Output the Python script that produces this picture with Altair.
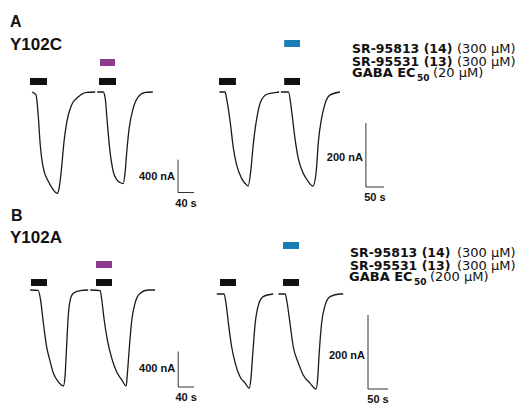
import altair as alt
import pandas as pd

FONT = "Liberation Sans"
LFONT = "DejaVu Sans"

# ---------------- data (time in s, current in nA) ----------------
# Panel A, left (Y102C, GABA then GABA + SR-95531)
aL_t1 = [5, 15, 21, 25, 33, 46, 58, 68, 73, 79, 85, 92, 104, 121, 142, 163]
aL_i1 = [0, -36, -315, -606, -921, -1091, -1188, -1236, -1164, -921, -606, -364, -158, -57, -4, 0]
aL_t2 = [168, 183, 188, 193, 200, 208, 217, 225, 233, 238, 242, 248, 258, 271, 288, 307]
aL_i2 = [0, 0, -76, -360, -724, -966, -1067, -1103, -1115, -966, -724, -440, -198, -57, -4, 0]
aL_gaba = [[0, 42.5], [172.5, 215]]
aL_drug = [[175, 212.5]]

# Panel A, right (Y102C, GABA then GABA + SR-95813)
aR_t1 = [1, 17, 21, 31, 40, 49, 63, 77, 81, 88, 95, 105, 116, 133, 160, 167]
aR_i1 = [0, 0, -20, -93, -176, -228, -270, -291, -294, -249, -166, -82, -30, -7, -1, 0]
aR_t2 = [172, 193, 202, 211, 220, 234, 248, 261, 270, 276, 285, 295, 309, 336]
aR_i2 = [0, 0, -62, -145, -207, -254, -280, -294, -249, -155, -82, -35, -9, 0]
aR_gaba = [[0, 47], [181, 225]]
aR_drug = [[181, 225]]

# Panel B, left (Y102A)
bL_t1 = [3, 23, 29, 36, 44, 53, 61, 73, 86, 90, 94, 98, 103, 111, 128, 148]
bL_i1 = [0, -5, -113, -375, -639, -808, -939, -1033, -1082, -977, -639, -301, -113, -37, -8, 0]
bL_t2 = [153, 178, 182, 188, 196, 207, 219, 232, 243, 246, 251, 257, 265, 278, 298, 315]
bL_i2 = [0, -8, -113, -338, -564, -770, -921, -1014, -1082, -939, -639, -338, -150, -37, 0, 0]
bL_gaba = [[5, 45], [167.5, 207.5]]
bL_drug = [[167.5, 207.5]]

# Panel B, right (Y102A)
bR_t1 = [2, 20, 25, 31, 39, 48, 60, 73, 83, 87, 92, 98, 106, 118, 143]
bR_i1 = [0, 0, -25, -79, -142, -187, -224, -241, -255, -232, -160, -79, -30, -7, 0]
bR_t2 = [156, 173, 178, 185, 193, 206, 218, 235, 250, 254, 258, 264, 273, 285, 310, 318]
bR_i2 = [0, 0, -25, -79, -142, -187, -219, -241, -257, -232, -160, -79, -30, -7, 0, 0]
bR_gaba = [[10, 50], [167.5, 207.5]]
bR_drug = [[167.5, 207.5]]

# scale bars: (time anchor, current anchor, time length, current length)
aL_sb = [370, -1224, 40, 400]
aR_sb = [408, -297, 50, 200]
bL_sb = [373, -1093, 40, 400]
bR_sb = [380, -257, 50, 200]

PURPLE = "#8c3b8e"
BLUE = "#1b7db5"
BLACK = "#111111"


def panel(traces, gaba, drug, drug_color, sb, xdom, xrng, ydom, yrng,
          gaba_y, drug_y, vdy=0):
    xs = alt.Scale(domain=xdom, range=xrng, zero=False, nice=False)
    ys = alt.Scale(domain=ydom, range=yrng, zero=False, nice=False)
    rows = []
    for k, (ts, cs) in enumerate(traces):
        for t, c in zip(ts, cs):
            rows.append({"t": t, "i": c, "seg": k})
    lines = alt.Chart(pd.DataFrame(rows)).mark_line(
        interpolate="monotone", color="#1a1a1a", strokeWidth=1.3
    ).encode(
        x=alt.X("t:Q", scale=xs, axis=None),
        y=alt.Y("i:Q", scale=ys, axis=None),
        detail="seg:N",
    )
    gdf = pd.DataFrame([{"t": a, "t2": b} for a, b in gaba])
    gbars = alt.Chart(gdf).mark_rect(color=BLACK).encode(
        x=alt.X("t:Q", scale=xs, axis=None), x2="t2:Q",
        y=alt.value(gaba_y), y2=alt.value(gaba_y + 7),
    )
    ddf = pd.DataFrame([{"t": a, "t2": b} for a, b in drug])
    dbars = alt.Chart(ddf).mark_rect(color=drug_color).encode(
        x=alt.X("t:Q", scale=xs, axis=None), x2="t2:Q",
        y=alt.value(drug_y), y2=alt.value(drug_y + 7),
    )
    t0, i0, lt, li = sb
    vdf = pd.DataFrame([{"t": t0, "i": i0, "i2": i0 + li,
                         "im": i0 + li / 2, "lab": f"{li} nA"}])
    hdf = pd.DataFrame([{"t": t0, "t2": t0 + lt, "tm": t0 + lt / 2,
                         "i": i0, "lab": f"{lt} s"}])
    vrule = alt.Chart(vdf).mark_rule(color="#333333", strokeWidth=1).encode(
        x=alt.X("t:Q", scale=xs, axis=None),
        y=alt.Y("i:Q", scale=ys, axis=None), y2="i2:Q",
    )
    hrule = alt.Chart(hdf).mark_rule(color="#333333", strokeWidth=1).encode(
        x=alt.X("t:Q", scale=xs, axis=None), x2="t2:Q",
        y=alt.Y("i:Q", scale=ys, axis=None),
    )
    vlab = alt.Chart(vdf).mark_text(
        align="right", baseline="middle", dx=-3, dy=vdy, fontSize=11,
        fontWeight="bold", font=FONT, color="#111111"
    ).encode(
        x=alt.X("t:Q", scale=xs, axis=None),
        y=alt.Y("im:Q", scale=ys, axis=None), text="lab:N",
    )
    hlab = alt.Chart(hdf).mark_text(
        align="center", baseline="top", dy=5, fontSize=11,
        fontWeight="bold", font=FONT, color="#111111"
    ).encode(
        x=alt.X("tm:Q", scale=xs, axis=None),
        y=alt.Y("i:Q", scale=ys, axis=None), text="lab:N",
    )
    return alt.layer(lines, gbars, dbars, vrule, hrule, vlab, hlab)


pA_L = panel([(aL_t1, aL_i1), (aL_t2, aL_i2)], aL_gaba, aL_drug, PURPLE, aL_sb,
             [0, 410], [22, 186], [-1224, 0], [184.5, 84], 70, 51, 1)
pA_R = panel([(aR_t1, aR_i1), (aR_t2, aR_i2)], aR_gaba, aR_drug, BLUE, aR_sb,
             [0, 458], [211, 375.9], [-297, 0], [179, 84], 70, 32, 3)
pB_L = panel([(bL_t1, bL_i1), (bL_t2, bL_i2)], bL_gaba, bL_drug, PURPLE, bL_sb,
             [0, 413], [21, 186.2], [-1093, 0], [379, 282], 271, 253, 0)
pB_R = panel([(bR_t1, bR_i1), (bR_t2, bR_i2)], bR_gaba, bR_drug, BLUE, bR_sb,
             [0, 430], [208, 380], [-257, 0], [381, 286], 271, 234, 4)


def label(text, x, y, size, weight="bold", font=FONT):
    return alt.Chart(alt.Data(values=[{"a": 1}])).mark_text(
        align="left", baseline="alphabetic", fontSize=size, fontWeight=weight,
        font=font, color="#111111"
    ).encode(x=alt.value(x), y=alt.value(y), text=alt.value(text))


def legend(x, y1, conc, gx_shift=0):
    return [
        label("SR-95813 (14)", x, y1, 12.5, font=LFONT),
        label("(300 μM)", 449, y1, 13, "normal", LFONT),
        label("SR-95531 (13)", x, y1 + 12.4, 12.5, font=LFONT),
        label("(300 μM)", 449, y1 + 12.4, 13, "normal", LFONT),
        label("GABA EC", x + gx_shift, y1 + 24, 13, font=LFONT),
        label("50", x + gx_shift + 65, y1 + 27.2, 9, font=LFONT),
        label(conc, x + gx_shift + 81, y1 + 24, 13, "normal", LFONT),
    ]


texts = [
    label("A", 2, 19, 16), label("Y102C", 2, 41.5, 17),
    label("B", 3, 213, 16), label("Y102A", 2, 235.3, 17),
] + legend(344, 45.3, "(20 μM)") + legend(342, 249.3, "(200 μM)", -1)

chart = alt.layer(pA_L, pA_R, pB_L, pB_R, *texts).resolve_scale(
    x="independent", y="independent"
).properties(
    width=510, height=387, padding=0, background="white"
).configure_view(stroke=None)

chart.save("out.html", embed_options={"renderer": "svg", "actions": False})
